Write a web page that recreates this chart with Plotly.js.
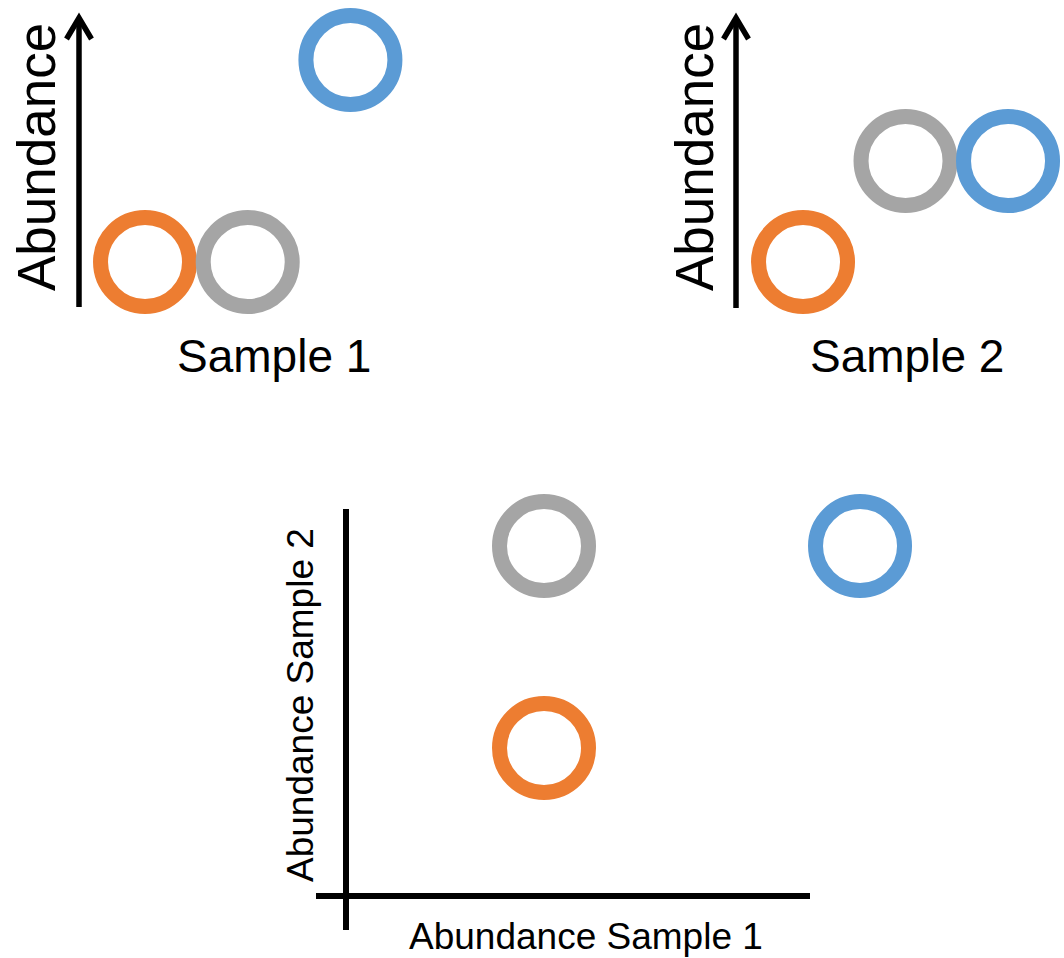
<!DOCTYPE html>
<html>
<head>
<meta charset="utf-8">
<script src="https://cdn.plot.ly/plotly-3.0.1.min.js"></script>
<style>html,body{margin:0;padding:0;background:#fff;}#chart{width:1064px;height:958px;}</style>
</head>
<body>
<div id="chart"></div>
<script>
// ---- data ----
const species = ['Species A', 'Species B', 'Species C'];
const speciesIndex = [0, 1, 2];
const speciesColors = ['#ED7D31', '#A5A5A5', '#5B9BD5'];
const sample1Abundance = [1, 1, 3];
const sample2Abundance = [1, 2, 2];
const panelTitles = ['Sample 1', 'Sample 2'];
const yLabel = 'Abundance';
const scatterXLabel = 'Abundance Sample 1';
const scatterYLabel = 'Abundance Sample 2';

// ---- helpers (pixel -> paper) ----
const W = 1064, H = 958;
const px = x => x / W;
const py = y => 1 - y / H;

const FONT = 'Liberation Sans, Arial, sans-serif';
const markerStyle = cols => ({
  symbol: 'circle-open', size: 89, color: cols,
  line: { width: 15, color: cols }
});

const traces = [
  { type: 'scatter', mode: 'markers', x: speciesIndex, y: sample1Abundance,
    text: species, xaxis: 'x', yaxis: 'y', marker: markerStyle(speciesColors),
    cliponaxis: false, hoverinfo: 'text+y' },
  { type: 'scatter', mode: 'markers', x: speciesIndex, y: sample2Abundance,
    text: species, xaxis: 'x2', yaxis: 'y2', marker: markerStyle(speciesColors),
    cliponaxis: false, hoverinfo: 'text+y' },
  { type: 'scatter', mode: 'markers', x: sample1Abundance, y: sample2Abundance,
    text: species, xaxis: 'x3', yaxis: 'y3', marker: markerStyle(speciesColors),
    cliponaxis: false, hoverinfo: 'text+x+y' }
];

const hidden = { visible: false, fixedrange: true };

// arrow shapes
function arrow(x, yBottom, yTip) {
  return [
    { type: 'line', xref: 'paper', yref: 'paper', x0: px(x), x1: px(x), y0: py(yBottom), y1: py(yTip + 3),
      line: { color: '#000', width: 5.5 } },
    { type: 'path', xref: 'paper', yref: 'paper',
      path: `M ${px(x - 12.5)} ${py(yTip + 24)} L ${px(x)} ${py(yTip + 3)} L ${px(x + 12.5)} ${py(yTip + 24)}`,
      line: { color: '#000', width: 5.5 } }
  ];
}

const shapes = [
  ...arrow(79, 307, 15),
  ...arrow(736, 308, 15),
  { type: 'line', xref: 'paper', yref: 'paper', x0: px(346), x1: px(346), y0: py(509), y1: py(930),
    line: { color: '#000', width: 6 } },
  { type: 'line', xref: 'paper', yref: 'paper', x0: px(316), x1: px(810), y0: py(896), y1: py(896),
    line: { color: '#000', width: 6 } }
];

const annotations = [
  { text: yLabel, textangle: -90, x: px(36), y: py(157), xref: 'paper', yref: 'paper',
    showarrow: false, xanchor: 'center', yanchor: 'middle', font: { family: FONT, size: 53, color: '#000' } },
  { text: yLabel, textangle: -90, x: px(694), y: py(157), xref: 'paper', yref: 'paper',
    showarrow: false, xanchor: 'center', yanchor: 'middle', font: { family: FONT, size: 53, color: '#000' } },
  { text: panelTitles[0], x: px(274), y: py(356), xref: 'paper', yref: 'paper',
    showarrow: false, xanchor: 'center', yanchor: 'middle', font: { family: FONT, size: 46, color: '#000' } },
  { text: panelTitles[1], x: px(907), y: py(356), xref: 'paper', yref: 'paper',
    showarrow: false, xanchor: 'center', yanchor: 'middle', font: { family: FONT, size: 46, color: '#000' } },
  { text: scatterYLabel, textangle: -90, x: px(300), y: py(705), xref: 'paper', yref: 'paper',
    showarrow: false, xanchor: 'center', yanchor: 'middle', font: { family: FONT, size: 37, color: '#000' } },
  { text: scatterXLabel, x: px(586), y: py(936), xref: 'paper', yref: 'paper',
    showarrow: false, xanchor: 'center', yanchor: 'middle', font: { family: FONT, size: 37, color: '#000' } }
];

const layout = {
  width: W, height: H,
  margin: { l: 0, r: 0, t: 0, b: 0, pad: 0 },
  paper_bgcolor: '#fff', plot_bgcolor: 'rgba(0,0,0,0)',
  showlegend: false,
  font: { family: FONT },
  xaxis:  Object.assign({ domain: [0, 0.5], anchor: 'y',  range: [-1.412, 3.768] }, hidden),
  yaxis:  Object.assign({ domain: [py(400), 1], anchor: 'x', range: [-0.366, 3.594] }, hidden),
  xaxis2: Object.assign({ domain: [0.5, 1], anchor: 'y2', range: [-2.644, 2.546] }, hidden),
  yaxis2: Object.assign({ domain: [py(400), 1], anchor: 'x2', range: [-0.366, 3.594] }, hidden),
  xaxis3: Object.assign({ domain: [0, 1], anchor: 'y3', range: [-2.443, 4.291] }, hidden),
  yaxis3: Object.assign({ domain: [0, py(420)], anchor: 'x3', range: [-0.0396, 2.624] }, hidden),
  shapes: shapes,
  annotations: annotations
};

Plotly.newPlot('chart', traces, layout, { displayModeBar: false, staticPlot: true });
</script>
</body>
</html>
